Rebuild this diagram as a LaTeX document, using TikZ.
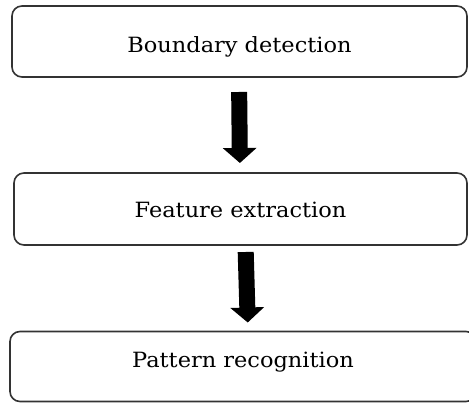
\documentclass[tikz,border=0pt]{standalone}
\usepackage{fontspec}
\setmainfont{DejaVu Serif}[FakeStretch=1.07]
\usetikzlibrary{arrows.meta}
\begin{document}
\begin{tikzpicture}[x=1pt,y=-1pt,
  stagebox/.style={draw=black!80, line width=1.6pt, rounded corners=10pt, inner sep=0pt, outer sep=0pt, text height=15pt, text depth=5pt, font=\fontsize{21}{25}\selectfont},
  blockarrow/.style={line width=16pt, -{Triangle[width=33pt,length=15pt]}}]
\clip (0,0) rectangle (469,403);
\fill[white] (0,0) rectangle (469,403);
\node[stagebox, minimum width=455pt, minimum height=71pt] (b1) at (239.5,41.5) {\raisebox{-6.5pt}{Boundary detection}};
\node[stagebox, minimum width=453pt, minimum height=72pt] (b2) at (240.5,209) {\raisebox{-4pt}{Feature extraction}};
\node[stagebox, minimum width=466pt, minimum height=70pt] (b3) at (243,366.5) {\raisebox{3.5pt}{Pattern recognition}};
\draw[blockarrow, shorten <=15pt, shorten >=10pt] ([xshift=-0.5pt]b1.south) -- ([xshift=-0.5pt]b2.north);
\draw[blockarrow, shorten <=7pt, shorten >=9pt] ([xshift=5pt]b2.south) -- ([xshift=5pt]b3.north);
\end{tikzpicture}
\end{document}
